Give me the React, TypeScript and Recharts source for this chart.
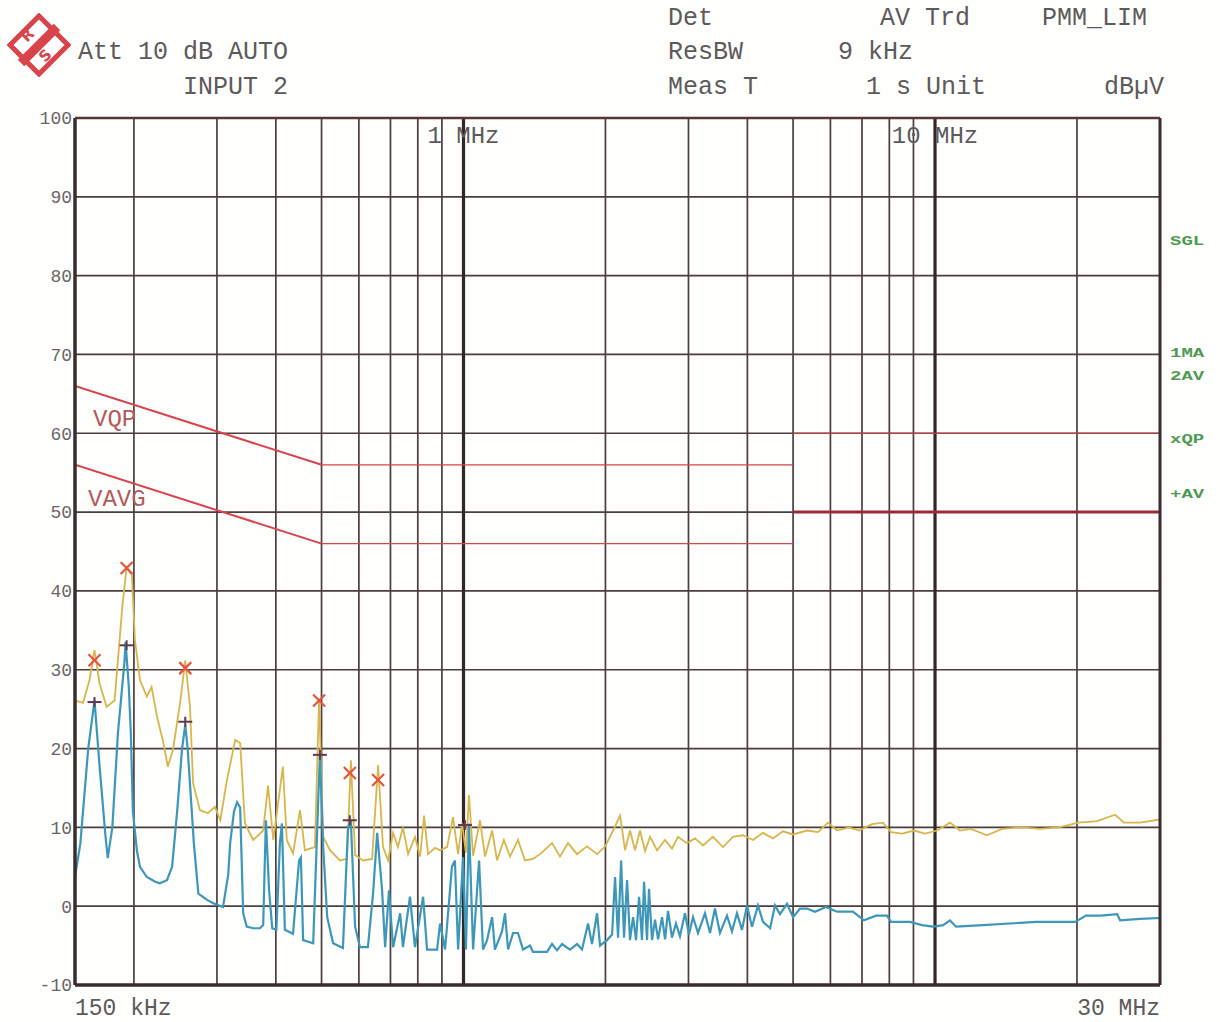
import React from "react"
import {
  ComposedChart,
  Line,
  Scatter,
  XAxis,
  YAxis,
  CartesianGrid,
  ReferenceLine,
} from "recharts"

// frequency in MHz, level in dBµV
const xTicks = [0.15, 0.2, 0.3, 0.4, 0.5, 0.6, 0.7, 0.8, 0.9, 1, 2, 3, 4, 5, 6, 7, 8, 9, 10, 20, 30]
const majorFreqs = [1, 10]
const yTicks = [-10, 0, 10, 20, 30, 40, 50, 60, 70, 80, 90, 100]
const edgeLabels: Record<number, string> = { 0.15: "150 kHz", 30: "30 MHz" }

const qpLimitSlope = [[0.15, 66], [0.5, 56]]
const qpLimitFlat = [[0.5, 56], [5, 56]]
const qpLimitHigh = [[5, 60], [30, 60]]
const avLimitSlope = [[0.15, 56], [0.5, 46]]
const avLimitFlat = [[0.5, 46], [5, 46]]
const avLimitHigh = [[5, 50], [30, 50]]

// yellow trace (QP detector scan)
const qpTrace = [
  [0.150, 26.1], [0.156, 25.8], [0.161, 28.7], [0.165, 32.5], [0.169, 28.3], [0.175, 25.3],
  [0.182, 26.1], [0.189, 38], [0.193, 43], [0.198, 42], [0.201, 33.8], [0.206, 28.7],
  [0.213, 26.6], [0.218, 27.8], [0.224, 24], [0.231, 20.7], [0.236, 17.7], [0.242, 19.8],
  [0.251, 26.1], [0.257, 31.2], [0.263, 25.3], [0.267, 15.6], [0.276, 12.2], [0.287, 11.8],
  [0.297, 12.6], [0.305, 10.9], [0.315, 16], [0.328, 21.1], [0.336, 20.7], [0.344, 10.5],
  [0.358, 8.4], [0.376, 9.6], [0.385, 15.3], [0.395, 8.4], [0.414, 17.7], [0.422, 8.4],
  [0.435, 6.7], [0.450, 12.2], [0.461, 7.1], [0.484, 7.5], [0.494, 26.3], [0.504, 8.8],
  [0.521, 7.1], [0.547, 5.8], [0.566, 6], [0.577, 18.5], [0.589, 6.5], [0.612, 5.8],
  [0.640, 6], [0.659, 17.9], [0.675, 7.5], [0.692, 5.8], [0.709, 9.3], [0.726, 7.5],
  [0.744, 10], [0.763, 6.6], [0.789, 8.8], [0.809, 6.3], [0.825, 11.5], [0.841, 6.6],
  [0.870, 7.4], [0.892, 7.1], [0.923, 7.5], [0.950, 11.3], [0.974, 6.6], [0.993, 10.5],
  [1.012, 6.8], [1.027, 14.1], [1.048, 6.4], [1.084, 10.9], [1.111, 6.3], [1.150, 9.6],
  [1.178, 5.8], [1.218, 8.4], [1.255, 6.3], [1.305, 8.4], [1.350, 5.8], [1.404, 6.0],
  [1.453, 6.6], [1.541, 8], [1.602, 6.3], [1.666, 8], [1.741, 6.6], [1.828, 7.6],
  [1.920, 6.6], [1.998, 7.6], [2.076, 9.6], [2.148, 11.5], [2.201, 7.1], [2.255, 9.6],
  [2.311, 7.1], [2.368, 9.6], [2.427, 7.0], [2.487, 8.8], [2.573, 7.1], [2.676, 8.4],
  [2.768, 7.3], [2.850, 8.8], [2.978, 8.0], [3.097, 8.6], [3.220, 7.7], [3.380, 8.8],
  [3.551, 7.5], [3.728, 8.8], [3.915, 9.0], [4.111, 8.4], [4.317, 9.3], [4.532, 8.6],
  [4.759, 9.5], [5.000, 9.1], [5.351, 9.6], [5.647, 9.4], [5.930, 10.6], [6.197, 9.6],
  [6.569, 10], [6.898, 9.6], [7.351, 10.4], [7.755, 10.6], [8.067, 9.4], [8.512, 9.2],
  [9.026, 9.6], [9.523, 9.2], [10.10, 9.6], [10.76, 10.6], [11.30, 9.6], [11.92, 9.8],
  [12.89, 9], [13.87, 9.8], [15.22, 10], [16.70, 9.8], [18.33, 10], [20.11, 10.6],
  [22.07, 10.8], [24.09, 11.6], [25.17, 10.6], [27.22, 10.6], [30, 11],
]

// blue trace (AV detector scan)
const avTrace = [
  [0.150, 3.7], [0.154, 8], [0.160, 20], [0.165, 26.1], [0.169, 18], [0.174, 9],
  [0.176, 6.1], [0.180, 10], [0.185, 22], [0.191, 31], [0.192, 33.5], [0.195, 28],
  [0.197, 22], [0.199, 12], [0.203, 7], [0.206, 5], [0.213, 3.7], [0.222, 3.1],
  [0.227, 2.9], [0.235, 3.3], [0.241, 5], [0.247, 12], [0.253, 20], [0.257, 23],
  [0.260, 20], [0.264, 14], [0.268, 8], [0.274, 1.6], [0.286, 0.8], [0.294, 0.4],
  [0.309, -0.1], [0.317, 4], [0.320, 8], [0.326, 12], [0.331, 13.2], [0.336, 12.5],
  [0.341, -0.9], [0.347, -2.6], [0.358, -2.8], [0.370, -2.8], [0.376, -2.4], [0.381, 10.9],
  [0.387, 2], [0.393, -2.8], [0.401, -3], [0.408, 8], [0.412, 10.5], [0.418, -3],
  [0.435, -3.5], [0.448, 5.8], [0.452, 6.2], [0.457, -4.3], [0.480, -4.7], [0.492, 13.5],
  [0.496, 19.2], [0.504, 7.5], [0.514, -1.4], [0.529, -4.7], [0.555, -5.3], [0.569, 10],
  [0.577, 10.8], [0.589, -2.6], [0.603, -5.2], [0.627, -5.2], [0.643, 1.6], [0.656, 9.3],
  [0.672, 2], [0.682, -5.2], [0.695, 2], [0.709, -5.2], [0.734, -0.9], [0.744, -5.2],
  [0.770, 1.2], [0.789, -5.2], [0.821, 1.2], [0.837, -5.5], [0.879, -5.5], [0.892, -2.2],
  [0.914, -5.5], [0.945, 5], [0.959, 5.8], [0.974, -5.5], [0.998, 6.2], [1.012, -5.5],
  [1.027, 10.5], [1.048, -5.5], [1.079, 5.8], [1.100, -5.5], [1.122, -4.3], [1.150, -1.4],
  [1.166, -5.5], [1.207, -3.2], [1.225, -0.9], [1.243, -5.5], [1.274, -3.4], [1.305, -3.4],
  [1.337, -5.5], [1.384, -5.0], [1.404, -5.8], [1.504, -5.8], [1.541, -4.8], [1.579, -5.6],
  [1.618, -4.8], [1.682, -5.5], [1.741, -4.8], [1.784, -5.5], [1.837, -2.2], [1.873, -4.8],
  [1.920, -0.9], [1.948, -5.0], [2.016, -4.3], [2.066, -3.6], [2.096, 3.7], [2.127, -4],
  [2.159, 5.8], [2.190, -4], [2.223, 3.3], [2.255, -4.3], [2.289, -1.4], [2.322, -4.3],
  [2.357, 1.2], [2.391, -4.3], [2.415, 3.1], [2.450, -4.3], [2.474, 2.2], [2.511, -4.3],
  [2.548, -1.7], [2.586, -4.2], [2.637, -1.4], [2.676, -4.2], [2.715, -0.6], [2.768, -4],
  [2.822, -2.2], [2.878, -3.8], [2.949, -0.9], [3.007, -3.6], [3.067, -1.4], [3.143, -3.4],
  [3.252, -0.9], [3.333, -3.4], [3.414, -0.3], [3.499, -3.4], [3.621, -1.2], [3.710, -3.2],
  [3.802, -0.9], [3.896, -3], [3.992, 0.1], [4.091, -2.6], [4.212, 0.1], [4.317, -2],
  [4.470, -2.8], [4.577, 0.1], [4.690, -1], [4.853, 0.3], [5.000, -1.4], [5.172, -0.3],
  [5.351, -0.3], [5.566, -0.7], [5.872, -0.1], [6.197, -0.7], [6.698, -0.7], [7.069, -1.8],
  [7.496, -1.2], [7.910, -1.2], [8.067, -2], [8.851, -2], [9.385, -2.4], [9.903, -2.6],
  [10.40, -2.4], [10.76, -1.8], [11.08, -2.6], [12.64, -2.4], [16.38, -2], [19.82, -2],
  [20.91, -1.2], [22.50, -1.2], [24.33, -1], [24.69, -1.8], [27.22, -1.6], [30, -1.5],
]

const qpMarkers = [[0.165, 31.2], [0.193, 42.9], [0.257, 30.2], [0.494, 26.1], [0.574, 16.9], [0.659, 16.0]]
const avMarkers = [[0.165, 25.9], [0.193, 33.1], [0.257, 23.4], [0.496, 19.2], [0.574, 10.9], [1.007, 10.3]]

const toPts = (rows: number[][]) => rows.map(([f, v]) => ({ f, v }))

const MONO = '"Liberation Mono", "DejaVu Sans Mono", monospace'
const TEXT = "#5c5a5a"
const GRID = "#4d3d3f"
const LIMIT = "#d8434c"

function FreqTick({ x, payload }: any) {
  const lbl = edgeLabels[payload.value]
  if (!lbl) return <g />
  return (
    <text
      x={x}
      y={1009}
      textAnchor={payload.value < 1 ? "start" : "end"}
      dominantBaseline="middle"
      fill={TEXT}
      fontSize={23}
      fontFamily={MONO}
    >
      {lbl}
    </text>
  )
}

function XMark({ cx, cy }: any) {
  return (
    <g stroke="#e2553f" strokeWidth={2.2}>
      <line x1={cx - 6} y1={cy - 6} x2={cx + 6} y2={cy + 6} />
      <line x1={cx - 6} y1={cy + 6} x2={cx + 6} y2={cy - 6} />
    </g>
  )
}

function PlusMark({ cx, cy }: any) {
  return (
    <g stroke="#5e3a55" strokeWidth={2}>
      <line x1={cx - 7} y1={cy} x2={cx + 7} y2={cy} />
      <line x1={cx} y1={cy - 5} x2={cx} y2={cy + 5} />
    </g>
  )
}

function Txt({ x, y, children, color = TEXT, size = 25, end = false, bold = false, squash = 1 }: any) {
  return (
    <span
      style={{
        position: "absolute",
        left: x,
        top: y,
        transform: `translate(${end ? "-100%" : "0"}, -50%) scaleY(${squash})`,
        transformOrigin: end ? "right center" : "left center",
        whiteSpace: "pre",
        lineHeight: 1,
        fontFamily: MONO,
        fontSize: size,
        fontWeight: bold ? 700 : 400,
        color,
      }}
    >
      {children}
    </span>
  )
}

function Logo() {
  return (
    <svg width={64} height={64} style={{ position: "absolute", left: 7, top: 13 }}>
      <polygon points="32,3 61,32 32,61 3,32" fill="#fff" stroke="#d9434a" strokeWidth={5} />
      <line x1={14} y1={50} x2={50} y2={14} stroke="#d9434a" strokeWidth={9} />
      <text x={20} y={30} fontSize={15} fill="#d9434a" fontFamily="DejaVu Sans" fontWeight={700} transform="rotate(-45 20 30)">R</text>
      <text x={38} y={50} fontSize={15} fill="#d9434a" fontFamily="DejaVu Sans" fontWeight={700} transform="rotate(-45 38 50)">S</text>
    </svg>
  )
}

const limitSeries = [
  { rows: qpLimitSlope, w: 2 },
  { rows: qpLimitFlat, w: 1.2 },
  { rows: qpLimitHigh, w: 1.2 },
  { rows: avLimitSlope, w: 2 },
  { rows: avLimitFlat, w: 1.2 },
]

export default function App() {
  return (
    <div style={{ position: "absolute", left: 0, top: 0, width: 1220, height: 1022, background: "#fefefd", overflow: "hidden" }}>
      <Logo />
      <Txt x={78} y={52}>Att 10 dB AUTO</Txt>
      <Txt x={183} y={87}>INPUT 2</Txt>
      <Txt x={668} y={18}>Det</Txt>
      <Txt x={880} y={18}>AV Trd</Txt>
      <Txt x={1042} y={18}>PMM_LIM</Txt>
      <Txt x={668} y={52}>ResBW</Txt>
      <Txt x={838} y={52}>9 kHz</Txt>
      <Txt x={668} y={87}>Meas T</Txt>
      <Txt x={866} y={87}>1 s Unit</Txt>
      <Txt x={1164} y={87} end>dBµV</Txt>

      <ComposedChart width={1220} height={1022} margin={{ top: 118, right: 60, bottom: 0, left: 8 }}>
        <CartesianGrid stroke={GRID} strokeWidth={1.7} />
        <XAxis
          type="number"
          dataKey="f"
          scale="log"
          domain={[0.15, 30]}
          ticks={xTicks}
          interval={0}
          allowDataOverflow
          height={37}
          axisLine={false}
          tickLine={false}
          tickSize={0}
          tick={<FreqTick />}
        />
        <YAxis
          type="number"
          dataKey="v"
          domain={[-10, 100]}
          ticks={yTicks}
          interval={0}
          width={67}
          axisLine={false}
          tickLine={false}
          tickSize={3}
          tickMargin={0}
          tick={{ fill: "#6a6666", fontSize: 18, fontFamily: MONO }}
        />
        {majorFreqs.map((f) => (
          <ReferenceLine
            key={f}
            x={f}
            stroke="#332628"
            strokeWidth={3.2}
            label={{ value: `${f} MHz`, position: "insideTop", offset: 8, fill: TEXT, fontSize: 24, fontFamily: MONO }}
          />
        ))}
        {limitSeries.map((s, i) => (
          <Line
            key={i}
            data={toPts(s.rows)}
            dataKey="v"
            type="linear"
            stroke={LIMIT}
            strokeWidth={s.w}
            dot={false}
            isAnimationActive={false}
          />
        ))}
        <Line data={toPts(avLimitHigh)} dataKey="v" type="linear" stroke="#9c2a3c" strokeWidth={3} dot={false} isAnimationActive={false} />
        <Line data={toPts(qpTrace)} dataKey="v" type="linear" stroke="#d8b64c" strokeWidth={1.8} dot={false} isAnimationActive={false} />
        <Line data={toPts(avTrace)} dataKey="v" type="linear" stroke="#3d97b8" strokeWidth={2.2} dot={false} isAnimationActive={false} />
        <Scatter data={toPts(qpMarkers)} dataKey="v" shape={<XMark />} isAnimationActive={false} />
        <Scatter data={toPts(avMarkers)} dataKey="v" shape={<PlusMark />} isAnimationActive={false} />
        <ReferenceLine x={0.15} stroke="#3a2c2e" strokeWidth={3.5} />
        <ReferenceLine x={30} stroke="#3a2c2e" strokeWidth={3} />
        <ReferenceLine y={-10} stroke="#3a2c2e" strokeWidth={3.5} />
        <ReferenceLine y={100} stroke="#5a3538" strokeWidth={2.5} />
      </ComposedChart>

      <Txt x={93} y={420} color="#b45a5c" size={24}>VQP</Txt>
      <Txt x={88} y={500} color="#b45a5c" size={24}>VAVG</Txt>

      <Txt x={1170} y={242} color="#4f9a52" size={19} bold squash={0.72}>SGL</Txt>
      <Txt x={1170} y={354} color="#4f9a52" size={19} bold squash={0.72}>1MA</Txt>
      <Txt x={1170} y={377} color="#4f9a52" size={19} bold squash={0.72}>2AV</Txt>
      <Txt x={1170} y={440} color="#4f9a52" size={19} bold squash={0.72}>xQP</Txt>
      <Txt x={1170} y={495} color="#4f9a52" size={19} bold squash={0.72}>+AV</Txt>
    </div>
  )
}
